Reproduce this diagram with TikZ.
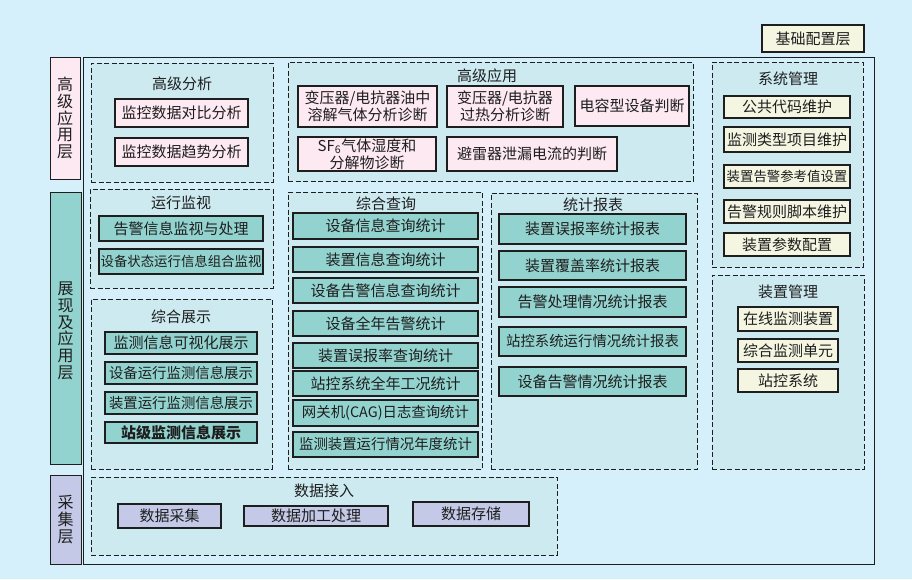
\documentclass[tikz,border=0pt]{standalone}
\usepackage{fontspec}
\setmainfont{Noto Sans CJK SC}
\usetikzlibrary{fit}
\definecolor{bgc}{HTML}{D5F0FA}
\definecolor{grpc}{HTML}{CDEAF1}
\definecolor{tealc}{HTML}{93D3CF}
\definecolor{pinkc}{HTML}{FDE9F1}
\definecolor{creamc}{HTML}{F4F6E2}
\definecolor{lavc}{HTML}{C3C9E6}
\definecolor{inkc}{HTML}{1E1E1E}
\begin{document}
\begin{tikzpicture}[x=1pt,y=-1pt,
  grp/.style={draw=inkc, line width=0.8pt, dash pattern=on 5pt off 2.5pt, fill=grpc, inner sep=0pt},
  bx/.style={draw=inkc, line width=1.1pt, inner sep=0pt, align=center, text=inkc, font=\fontsize{15}{17}\selectfont},
  pk/.style={bx, fill=pinkc},
  cr/.style={bx, fill=creamc},
  tl/.style={bx, fill=tealc},
  lv/.style={bx, fill=lavc},
  ttl/.style={inner sep=0pt, text=inkc, font=\fontsize{15}{17}\selectfont},
  lay/.style={draw=inkc, line width=1pt, inner sep=0pt, align=center, text=inkc, font=\fontsize{16}{16.7}\selectfont},
  laytxt/.style={inner sep=0pt, align=center, text=inkc, text width=30pt, font=\fontsize{16}{16.7}\selectfont},
  small/.style={font=\fontsize{13.4}{15}\selectfont},
  mid/.style={font=\fontsize{14.4}{16}\selectfont}]
\fill[bgc] (0,0) rectangle (912,579);
\useasboundingbox (0,0) rectangle (912,579);

% outer frame
\node[draw=inkc, line width=1pt, inner sep=0pt, fit={(83,57) (874,564)}] (frame) {};

% layer labels
\node[lay, fill=pinkc, fit={(50,57) (80,179)}] (lay1) {};
\node[laytxt] at (lay1.center) (lay1t) {高\\级\\应\\用\\层};
\node[lay, fill=tealc, fit={(50,192) (81,464)}] (lay2) {};
\node[laytxt] at ([yshift=-3pt]lay2.center) (lay2t) {展\\现\\及\\应\\用\\层};
\node[lay, fill=lavc, fit={(50,475) (81,564)}] (lay3) {};
\node[laytxt] at (lay3.center) (lay3t) {采\\集\\层};

% base config label
\node[cr, fit={(762,25) (864,52)}] (base) {};
\node[ttl] at (base.center) (baset) {基础配置层};

% groups
\node[grp, fit={(91,63) (273,182)}] (g1) {};
\node[grp, fit={(288,62) (693,181)}] (g2) {};
\node[grp, fit={(712,62) (863,267)}] (g3) {};
\node[grp, fit={(90,189) (273,288)}] (g4) {};
\node[grp, fit={(91,299) (272,469)}] (g5) {};
\node[grp, fit={(288,192) (482,469)}] (g6) {};
\node[grp, fit={(491,193) (697,469)}] (g7) {};
\node[grp, fit={(712,275) (864,469)}] (g8) {};
\node[grp, fit={(91,477) (557,555)}] (g9) {};

% group titles
\node[ttl] (t1) at (182,84) {高级分析};
\node[ttl] (t2) at (487,76) {高级应用};
\node[ttl] (t3) at (788,79) {系统管理};
\node[ttl] (t4) at (181,203) {运行监视};
\node[ttl] (t5) at (181,317) {综合展示};
\node[ttl] (t6) at (386,204) {综合查询};
\node[ttl] (t7) at (593,205) {统计报表};
\node[ttl] (t8) at (788,292) {装置管理};
\node[ttl] (t9) at (324,491) {数据接入};

% high-level analysis
\node[pk, minimum width=133pt, minimum height=28pt] (b11) at (181.5,113) {监控数据对比分析};
\node[pk, minimum width=133pt, minimum height=28pt] (b12) at (181.5,152) {监控数据趋势分析};

% high-level application
\node[pk, minimum width=139pt, minimum height=41pt] (b21) at (367.5,106.5) {变压器/电抗器油中\\溶解气体分析诊断};
\node[pk, minimum width=116pt, minimum height=41pt] (b22) at (505,106.5) {变压器/电抗器\\过热分析诊断};
\node[pk, minimum width=114pt, minimum height=40pt] (b23) at (632,106) {电容型设备判断};
\node[pk, minimum width=138pt, minimum height=34pt] (b24) at (367,154) {SF\textsubscript{6}气体湿度和\\分解物诊断};
\node[pk, minimum width=170pt, minimum height=34pt] (b25) at (532,154) {避雷器泄漏电流的判断};

% system management
\node[cr, minimum width=126pt, minimum height=22pt] (b31) at (787,107) {公共代码维护};
\node[cr, minimum width=126pt, minimum height=25pt] (b32) at (787,139.5) {监测类型项目维护};
\node[cr, small, minimum width=126pt, minimum height=23pt] (b33) at (787,176.5) {装置告警参考值设置};
\node[cr, minimum width=126pt, minimum height=23pt] (b34) at (787,211.5) {告警规则脚本维护};
\node[cr, minimum width=126pt, minimum height=23pt] (b35) at (787,244.5) {装置参数配置};

% device management
\node[cr, minimum width=100pt, minimum height=24pt] (b81) at (788,319) {在线监测装置};
\node[cr, minimum width=100pt, minimum height=23pt] (b82) at (788,350.5) {综合监测单元};
\node[cr, minimum width=100pt, minimum height=23pt] (b83) at (788,380.5) {站控系统};

% run monitoring
\node[tl, minimum width=164pt, minimum height=25pt] (b41) at (181,228.5) {告警信息监视与处理};
\node[tl, small, minimum width=164pt, minimum height=25pt] (b42) at (181,261.5) {设备状态运行信息组合监视};

% integrated display
\node[tl, minimum width=152pt, minimum height=22pt] (b51) at (181,343) {监测信息可视化展示};
\node[tl, mid, minimum width=152pt, minimum height=22pt] (b52) at (181,373) {设备运行监测信息展示};
\node[tl, mid, minimum width=152pt, minimum height=22pt] (b53) at (181,403) {装置运行监测信息展示};
\node[tl, minimum width=152pt, minimum height=21pt] (b54) at (181,432.5) {\textbf{站级监测信息展示}};

% integrated query
\node[tl, minimum width=185pt, minimum height=26pt] (b61) at (385.5,226) {设备信息查询统计};
\node[tl, minimum width=185pt, minimum height=25pt] (b62) at (385.5,259.5) {装置信息查询统计};
\node[tl, minimum width=185pt, minimum height=25pt] (b63) at (385.5,290.5) {设备告警信息查询统计};
\node[tl, minimum width=185pt, minimum height=25pt] (b64) at (385.5,323.5) {设备全年告警统计};
\node[tl, minimum width=185pt, minimum height=25pt] (b65) at (385.5,355.5) {装置误报率查询统计};
\node[tl, minimum width=185pt, minimum height=25pt] (b66) at (385.5,383.5) {站控系统全年工况统计};
\node[tl, mid, minimum width=185pt, minimum height=26pt] (b67) at (385.5,413) {网关机(CAG)日志查询统计};
\node[tl, mid, minimum width=185pt, minimum height=25pt] (b68) at (385.5,444.5) {监测装置运行情况年度统计};

% statistic reports
\node[tl, minimum width=187pt, minimum height=30pt] (b71) at (592.5,229) {装置误报率统计报表};
\node[tl, minimum width=187pt, minimum height=29pt] (b72) at (592.5,265.5) {装置覆盖率统计报表};
\node[tl, minimum width=187pt, minimum height=30pt] (b73) at (592.5,302) {告警处理情况统计报表};
\node[tl, mid, minimum width=187pt, minimum height=29pt] (b74) at (592.5,341.5) {站控系统运行情况统计报表};
\node[tl, minimum width=187pt, minimum height=29pt] (b75) at (592.5,381.5) {设备告警情况统计报表};

% data access
\node[lv, minimum width=103pt, minimum height=24pt] (b91) at (169.5,516) {数据采集};
\node[lv, minimum width=144pt, minimum height=20pt] (b92) at (316,516) {数据加工处理};
\node[lv, minimum width=116pt, minimum height=24pt] (b93) at (471,514) {数据存储};
\end{tikzpicture}
\end{document}
